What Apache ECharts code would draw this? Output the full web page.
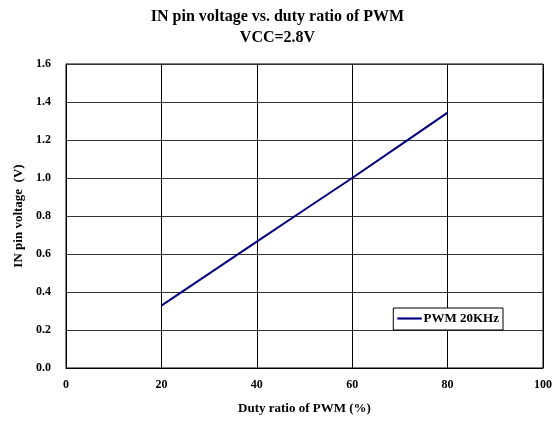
<!DOCTYPE html>
<html>
<head>
<meta charset="utf-8">
<script src="https://cdn.jsdelivr.net/npm/echarts@6/dist/echarts.min.js"></script>
<style>html,body{margin:0;padding:0;background:#fff}#c{width:555px;height:421px}</style>
</head>
<body>
<div id="c"></div>
<script>
var titleText = 'IN pin voltage vs. duty ratio of PWM\nVCC=2.8V';
var xName = 'Duty ratio of PWM (%)';
var yName = 'IN pin voltage  (V)';
var seriesName = 'PWM 20KHz';
var dutyRatio = [20, 30, 40, 50, 60, 70, 80];
var inVoltage = [0.328, 0.497, 0.665, 0.833, 1.0, 1.172, 1.344];

var font = 'Liberation Serif';
var chart = echarts.init(document.getElementById('c'), null, {renderer: 'canvas'});
chart.setOption({
  animation: false,
  backgroundColor: '#fff',
  title: {
    text: titleText,
    left: 'center',
    top: 1,
    textStyle: {fontFamily: font, fontWeight: 'bold', fontSize: 16, color: '#000', lineHeight: 21}
  },
  grid: {left: 66, right: 10, top: 64, bottom: 53, show: true, borderColor: '#000', borderWidth: 1},
  legend: {
    show: true,
    right: 52, top: 308,
    orient: 'vertical',
    backgroundColor: '#fff',
    borderColor: '#000',
    borderWidth: 1,
    borderRadius: 0,
    padding: [4, 4, 5, 4],
    itemWidth: 24, itemHeight: 12, itemGap: 4,
    icon: 'path://M0,5.2L24,5.2L24,6.8L0,6.8Z',
    textStyle: {fontFamily: font, fontWeight: 'bold', fontSize: 13, color: '#000', padding: [0, 0, 0, -3]},
    data: [{name: seriesName, itemStyle: {color: '#000080', borderColor: '#000080', borderWidth: 0.5}}]
  },
  xAxis: {
    type: 'value', min: 0, max: 100, interval: 20,
    name: xName, nameLocation: 'middle', nameGap: 34,
    nameTextStyle: {fontFamily: font, fontWeight: 'bold', fontSize: 13, color: '#000'},
    axisLine: {show: true, lineStyle: {color: '#000', width: 1}},
    axisTick: {show: false},
    axisLabel: {fontFamily: font, fontWeight: 'bold', fontSize: 12, color: '#000', margin: 11},
    splitLine: {show: true, lineStyle: {color: '#000', width: 1}}
  },
  yAxis: {
    type: 'value', min: 0, max: 1.6, interval: 0.2,
    name: yName, nameLocation: 'middle', nameGap: 41, nameRotate: 90,
    nameTextStyle: {fontFamily: font, fontWeight: 'bold', fontSize: 13, color: '#000'},
    axisLine: {show: true, lineStyle: {color: '#000', width: 1}},
    axisTick: {show: false},
    axisLabel: {fontFamily: font, fontWeight: 'bold', fontSize: 12, color: '#000', margin: 15,
      formatter: function (v) { return v.toFixed(1); }},
    splitLine: {show: true, lineStyle: {color: '#333', width: 1}}
  },
  series: [{
    name: seriesName,
    type: 'line',
    data: dutyRatio.map(function (x, i) { return [x, inVoltage[i]]; }),
    symbol: 'none',
    lineStyle: {color: '#000080', width: 2},
    itemStyle: {color: '#000080'}
  }]
});
</script>
</body>
</html>
